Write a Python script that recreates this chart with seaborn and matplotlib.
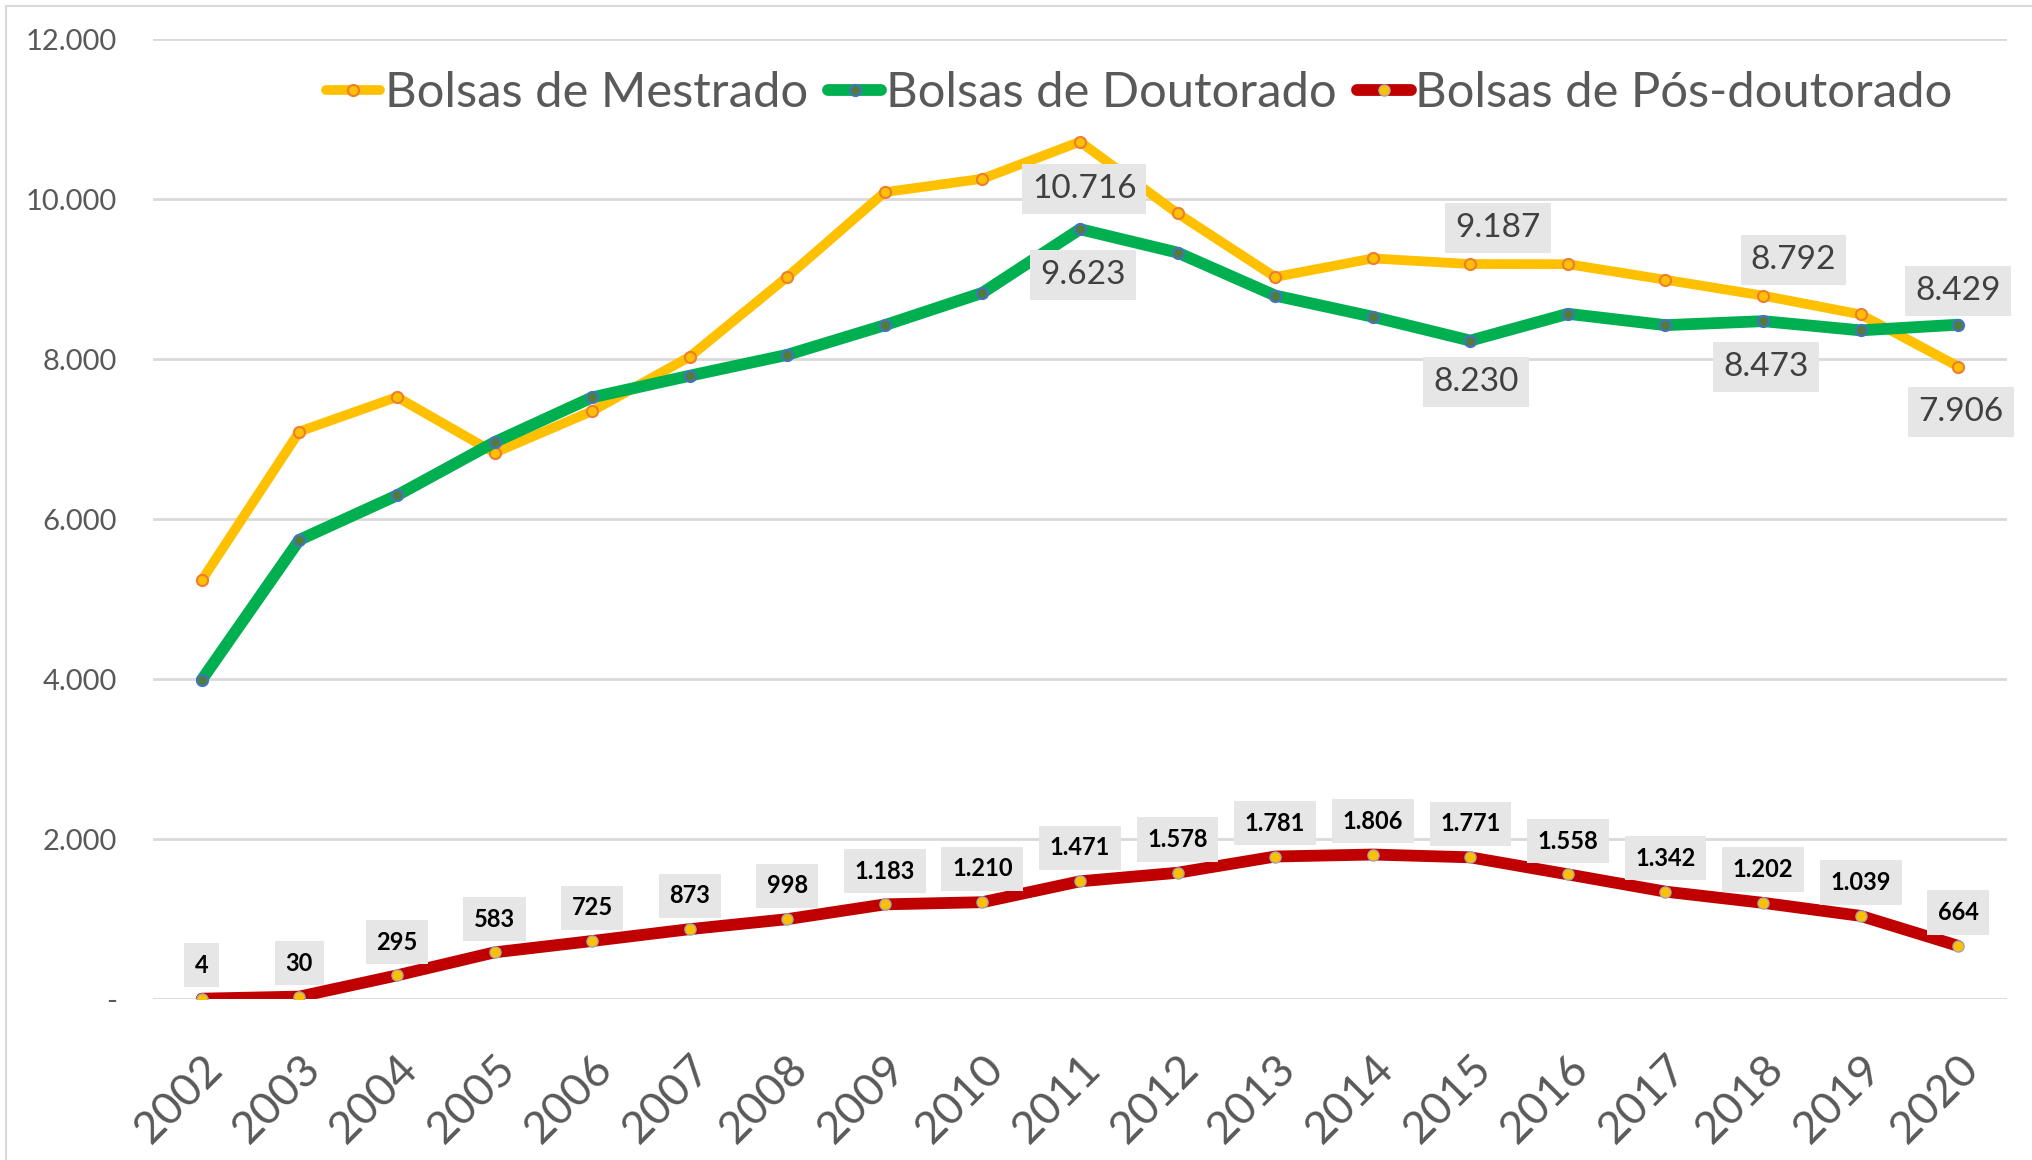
import matplotlib
matplotlib.use("Agg")
import matplotlib.pyplot as plt
import matplotlib.ticker as mticker
from matplotlib.patches import Rectangle
import seaborn as sns
import pandas as pd

# === DATA ===
years = list(range(2002, 2021))
mestrado = [5235, 7093, 7525, 6827, 7349, 8028, 9026, 10086, 10253, 10716,
            9820, 9025, 9257, 9187, 9185, 8990, 8792, 8557, 7906]
doutorado = [3990, 5739, 6295, 6960, 7520, 7791, 8052, 8423, 8827, 9623,
             9330, 8793, 8528, 8230, 8565, 8423, 8473, 8358, 8429]
posdoc = [4, 30, 295, 583, 725, 873, 998, 1183, 1210, 1471,
          1578, 1781, 1806, 1771, 1558, 1342, 1202, 1039, 664]
series_names = ["Bolsas de Mestrado", "Bolsas de Doutorado", "Bolsas de Pós-doutorado"]
y_ticks = [0, 2000, 4000, 6000, 8000, 10000, 12000]

# which points carry a label in the two upper series: year -> (dx, dy) in points
mestrado_labels = {2011: (3, -34), 2015: (20, 26), 2018: (22, 26), 2020: (2, -33)}
doutorado_labels = {2011: (2, -33), 2015: (4, -30), 2018: (2, -33), 2020: (0, 24)}


def fmt_br(v):
    # brazilian thousands separator
    return f"{v:,.0f}".replace(",", ".")


df = pd.DataFrame({"Ano": years, series_names[0]: mestrado,
                   series_names[1]: doutorado, series_names[2]: posdoc})

sns.set_theme(style="white")
plt.rcParams["font.family"] = ["Lato", "DejaVu Sans"]

fig = plt.figure(figsize=(20.32, 11.6), dpi=100)
ax = fig.add_axes([153 / 2032, 1 - 999 / 1160, 1854 / 2032, 960 / 1160])

styles = {
    series_names[0]: dict(color="#FFC000", linewidth=7, markerfacecolor="#FFC000",
                          markeredgecolor="#ED7D31", markersize=8, markeredgewidth=1.5),
    series_names[1]: dict(color="#00B050", linewidth=8.5, markerfacecolor="#507E3A",
                          markeredgecolor="#4472C4", markersize=8, markeredgewidth=1.5),
    series_names[2]: dict(color="#C00000", linewidth=8.5, markerfacecolor="#FFC000",
                          markeredgecolor="#A5A5A5", markersize=8, markeredgewidth=1),
}

for name in series_names:
    sns.lineplot(data=df, x="Ano", y=name, ax=ax, marker="o", label=name,
                 solid_capstyle="round", **styles[name])

box_style = dict(boxstyle="square,pad=0.3", facecolor="#E6E6E6", edgecolor="none")

for col, labels in [(series_names[0], mestrado_labels), (series_names[1], doutorado_labels)]:
    for yr, (dx, dy) in labels.items():
        v = df.loc[df["Ano"] == yr, col].iloc[0]
        ax.annotate(fmt_br(v), (yr, v), xytext=(dx, dy), textcoords="offset points",
                    ha="center", va="center", fontsize=24, color="#404040",
                    bbox=box_style, zorder=5)

for yr, v in zip(years, posdoc):
    ax.annotate(fmt_br(v), (yr, v), xytext=(0, 24), textcoords="offset points",
                ha="center", va="center", fontsize=17, fontweight="bold", color="#000000",
                bbox=dict(boxstyle="square,pad=0.45", facecolor="#E6E6E6", edgecolor="none"),
                zorder=5)

ax.set_xlim(2001.5, 2020.5)
ax.set_ylim(0, 12000)
ax.set_yticks(y_ticks)
ax.yaxis.set_major_formatter(mticker.FuncFormatter(lambda v, p: "-" if v == 0 else fmt_br(v)))
ax.set_xticks(years)
ax.set_xticklabels([str(y) for y in years], rotation=45, ha="right",
                   rotation_mode="anchor", fontsize=32.5, color="#595959")
for t in ax.get_yticklabels():
    t.set_fontsize(21)
    t.set_color("#595959")
ax.tick_params(axis="both", length=0)
ax.tick_params(axis="y", pad=26)
ax.tick_params(axis="x", pad=35)
ax.set_xlabel("")
ax.set_ylabel("")
ax.grid(axis="y", color="#D9D9D9", linewidth=2)
ax.set_axisbelow(True)
sns.despine(ax=ax, left=True, bottom=True)

leg = ax.legend(loc="center", bbox_to_anchor=(0.532, 0.944), ncol=3, frameon=False,
                fontsize=35.3, handlelength=1.1, handletextpad=0.1, columnspacing=0.4,
                labelcolor="#595959")

# chart-area frame (top and left edges visible in the reference)
fig.add_artist(Rectangle((6 / 2032, -0.1), 1.2, 1.1 - 6 / 1160, transform=fig.transFigure,
                         fill=False, edgecolor="#D9D9D9", linewidth=1.5))

fig.savefig("out.png", dpi=100)
